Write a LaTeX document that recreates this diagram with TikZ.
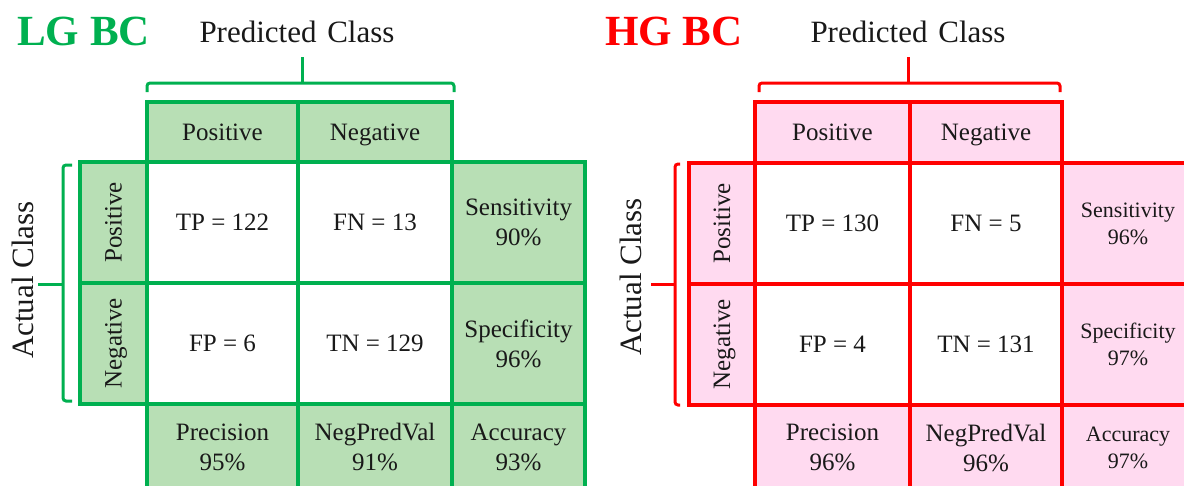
\documentclass[tikz,border=0pt]{standalone}
\usepackage{fontspec}
\setmainfont{Liberation Serif}
\definecolor{gline}{RGB}{0,176,80}
\definecolor{gfill}{RGB}{184,223,181}
\definecolor{rline}{RGB}{255,0,0}
\definecolor{rfill}{RGB}{255,218,240}
\definecolor{txt}{RGB}{25,25,25}
\tikzset{
  cellbase/.style={inner sep=0pt, align=center, text=txt, line width=4pt, font=\fontsize{25}{30}\selectfont},
  gcell/.style={cellbase, draw=gline, fill=gfill},
  gwhite/.style={cellbase, draw=gline, fill=white},
  rcell/.style={cellbase, draw=rline, fill=rfill},
  rwhite/.style={cellbase, draw=rline, fill=white},
  oneline/.style={text height=17pt, text depth=1pt},
  wh/.style 2 args={minimum width=#1, minimum height=#2},
  gbrace/.style={draw=gline, line width=3pt, rounded corners=3pt},
  rbrace/.style={draw=rline, line width=3pt, rounded corners=3pt},
  axislabel/.style={inner sep=0pt, text=txt, font=\fontsize{31}{36}\selectfont},
  titlelabel/.style={inner sep=0pt, font=\fontsize{43}{48}\selectfont\bfseries},
  small/.style={font=\fontsize{22}{27}\selectfont}
}
\begin{document}
\begin{tikzpicture}[x=1pt,y=-1pt]
\useasboundingbox (0,0) rectangle (1184,485);
\clip (0,0) rectangle (1184,485);

% ---------------- LG BC (green) ----------------
\node[titlelabel, text=gline, anchor=base west] (gtitle) at (17,45) {LG BC};
\node[axislabel, anchor=base] (gpred) at (297,42) {Predicted\hspace{3pt} Class};
\node[axislabel, rotate=90] (gact) at (23,280) {Actual Class};

% header row
\node[gcell, oneline, wh={151}{60}] (gHP) at (222.5,132) {Positive};
\node[gcell, oneline, wh={154}{60}] (gHN) at (375,132) {Negative};
% row headers
\node[gcell, oneline, wh={121}{67}, rotate=90] (gRP) at (113.5,222.5) {Positive};
\node[gcell, oneline, wh={121}{67}, rotate=90] (gRN) at (113.5,343.5) {Negative};
% main cells
\node[gwhite, oneline, wh={151}{121}] (gTP) at (222.5,222.5) {TP = 122};
\node[gwhite, oneline, wh={154}{121}] (gFN) at (375,222.5) {FN = 13};
\node[gcell, wh={133}{121}] (gSe) at (518.5,222.5) {Sensitivity\\90\%};
\node[gwhite, oneline, wh={151}{121}] (gFP) at (222.5,343.5) {FP = 6};
\node[gwhite, oneline, wh={154}{121}] (gTN) at (375,343.5) {TN = 129};
\node[gcell, wh={133}{121}] (gSp) at (518.5,343.5) {Specificity\\96\%};
% bottom row
\node[gcell, wh={151}{86}] (gPr) at (222.5,447) {Precision\\95\%};
\node[gcell, wh={154}{86}] (gNP) at (375,447) {NegPredVal\\91\%};
\node[gcell, wh={133}{86}] (gAc) at (518.5,447) {Accuracy\\93\%};

% braces
\coordinate (gb1) at (147,92);
\coordinate (gb2) at (454,92);
\coordinate (gbt) at (302,57);
\draw[gbrace] (gb1) |- (gbt |- 0,83) -| (gb2);
\draw[gbrace, rounded corners=0pt] (gbt) -- (gbt |- 0,83);
\coordinate (gl1) at (72,165);
\coordinate (gl2) at (72,401);
\coordinate (glt) at (38,284);
\draw[gbrace] (gl1) -| (63,284) |- (gl2);
\draw[gbrace, rounded corners=0pt] (glt) -- (63,284);

% ---------------- HG BC (red) ----------------
\node[titlelabel, text=rline, anchor=base west] (rtitle) at (605,45) {HG BC};
\node[axislabel, anchor=base] (rpred) at (908,42) {Predicted\hspace{3pt} Class};
\node[axislabel, rotate=90] (ract) at (631,277) {Actual Class};

\node[rcell, oneline, wh={155}{61}] (rHP) at (832.5,132.5) {Positive};
\node[rcell, oneline, wh={152}{61}] (rHN) at (986,132.5) {Negative};
\node[rcell, oneline, wh={121}{66}, rotate=90] (rRP) at (722,223.5) {Positive};
\node[rcell, oneline, wh={121}{66}, rotate=90] (rRN) at (722,344.5) {Negative};
\node[rwhite, oneline, wh={155}{121}] (rTP) at (832.5,223.5) {TP = 130};
\node[rwhite, oneline, wh={152}{121}] (rFN) at (986,223.5) {FN = 5};
\node[rcell, small, wh={132}{121}] (rSe) at (1128,223.5) {Sensitivity\\96\%};
\node[rwhite, oneline, wh={155}{121}] (rFP) at (832.5,344.5) {FP = 4};
\node[rwhite, oneline, wh={152}{121}] (rTN) at (986,344.5) {TN = 131};
\node[rcell, small, wh={132}{121}] (rSp) at (1128,344.5) {Specificity\\97\%};
\node[rcell, wh={155}{85}] (rPr) at (832.5,447.5) {Precision\\96\%};
\node[rcell, wh={152}{85}] (rNP) at (986,447.5) {NegPredVal\\96\%};
\node[rcell, small, wh={132}{85}] (rAc) at (1128,447.5) {Accuracy\\97\%};

\coordinate (rb1) at (759,92);
\coordinate (rb2) at (1060,92);
\coordinate (rbt) at (908,57);
\draw[rbrace] (rb1) |- (rbt |- 0,83) -| (rb2);
\draw[rbrace, rounded corners=0pt] (rbt) -- (rbt |- 0,83);
\coordinate (rl1) at (680,164);
\coordinate (rl2) at (680,405);
\coordinate (rlt) at (651,284);
\draw[rbrace] (rl1) -| (675,284) |- (rl2);
\draw[rbrace, rounded corners=0pt] (rlt) -- (675,284);
\end{tikzpicture}
\end{document}
